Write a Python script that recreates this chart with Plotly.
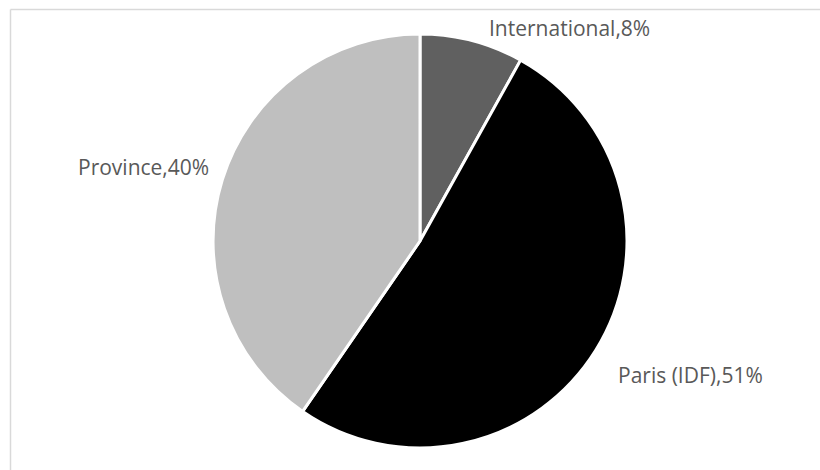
import plotly.graph_objects as go

# Share of clients by origin
categories = ["International", "Paris (IDF)", "Province"]
shares = [8, 51, 40]
colors = ["#606060", "#000000", "#bfbfbf"]

# label anchor points (paper coords) for each category
label_pos = {
    "International": (0.695, 0.940),
    "Paris (IDF)": (0.8415, 0.2021),
    "Province": (0.1756, 0.6447),
}

fig = go.Figure(
    go.Pie(
        labels=categories,
        values=shares,
        sort=False,
        direction="clockwise",
        rotation=0,
        marker=dict(colors=colors, line=dict(color="white", width=3)),
        textinfo="none",
        hoverinfo="label+percent",
        domain=dict(x=[0.2598, 0.7646], y=[0.0468, 0.9277]),
        showlegend=False,
    )
)

for cat, val in zip(categories, shares):
    x, y = label_pos[cat]
    fig.add_annotation(
        x=x, y=y, xref="paper", yref="paper",
        text=f"{cat},{val}%", showarrow=False,
        xanchor="center", yanchor="middle",
        font=dict(family="Open Sans", size=21, color="#595959"),
    )

# frame lines along the top and left edges
fig.add_shape(type="line", xref="paper", yref="paper",
              x0=10.5 / 820, x1=1, y0=1 - 9.5 / 470, y1=1 - 9.5 / 470,
              line=dict(color="#d9d9d9", width=1.5))
fig.add_shape(type="line", xref="paper", yref="paper",
              x0=10.5 / 820, x1=10.5 / 820, y0=0, y1=1 - 9.5 / 470,
              line=dict(color="#d9d9d9", width=1.5))

fig.update_layout(
    width=820, height=470,
    margin=dict(l=0, r=0, t=0, b=0),
    paper_bgcolor="white", plot_bgcolor="white",
)

fig.write_html("out.html")
